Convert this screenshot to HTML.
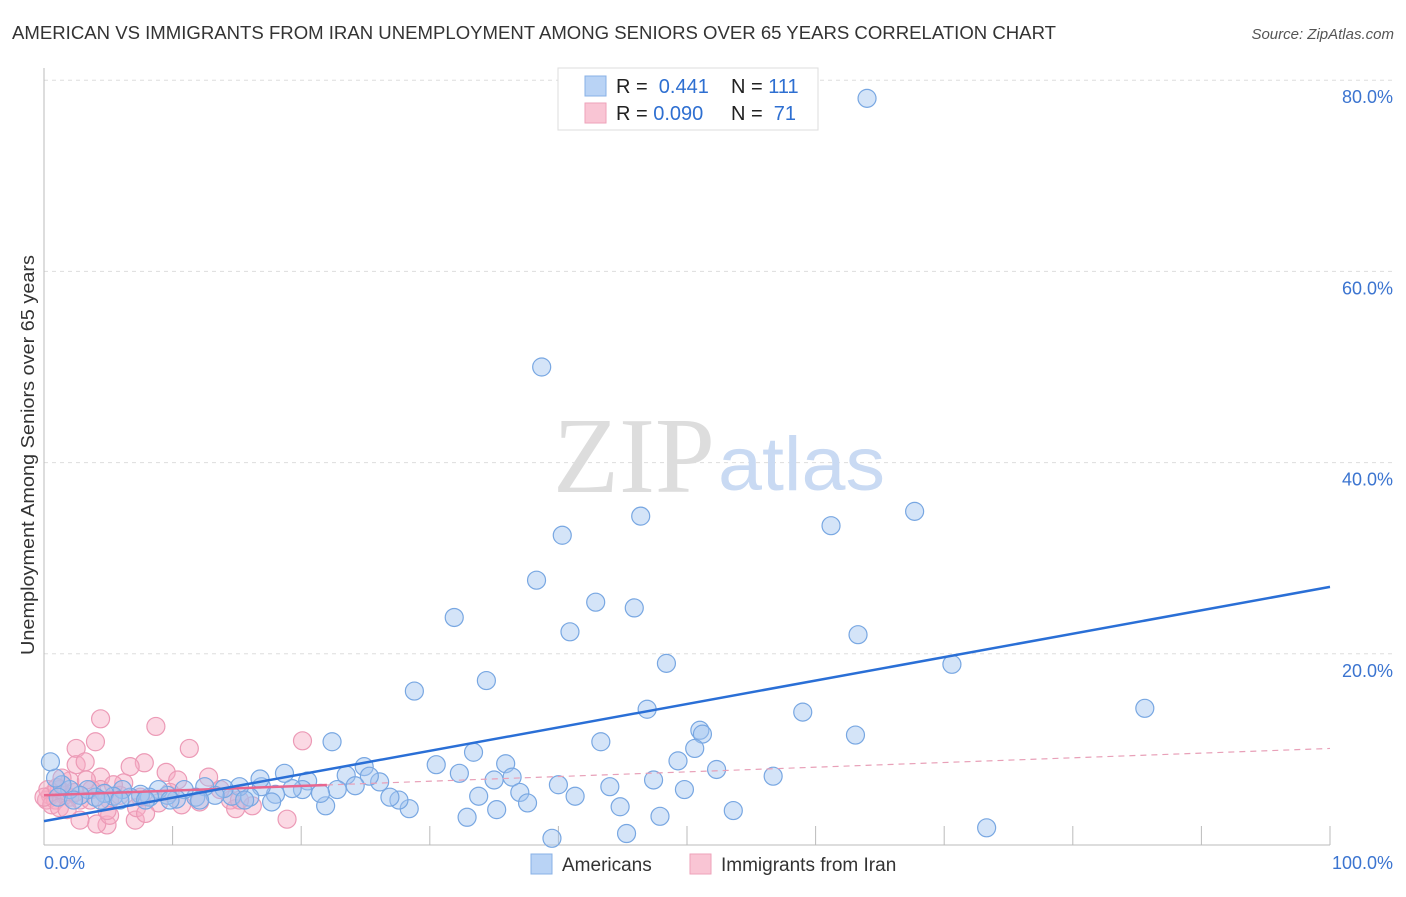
<!DOCTYPE html>
<html><head><meta charset="utf-8"><style>
body{margin:0;background:#fff;font-family:"Liberation Sans",sans-serif;}
svg text{font-family:"Liberation Sans",sans-serif;}
</style></head><body>
<svg id="chart" width="1406" height="892">
<text x="12" y="39" font-size="18" fill="#333" textLength="1044" lengthAdjust="spacingAndGlyphs">AMERICAN VS IMMIGRANTS FROM IRAN UNEMPLOYMENT AMONG SENIORS OVER 65 YEARS CORRELATION CHART</text>
<text x="1394" y="39" font-size="15" fill="#555" font-style="italic" text-anchor="end">Source: ZipAtlas.com</text>
<text transform="translate(34,655) rotate(-90)" font-size="18" fill="#333" textLength="400" lengthAdjust="spacingAndGlyphs">Unemployment Among Seniors over 65 years</text>
<g id="grid"></g>
<text x="553" y="492" font-size="108" fill="#ddd" textLength="162" lengthAdjust="spacingAndGlyphs" style="font-family:'Liberation Serif',serif">ZIP</text>
<text x="718" y="490" font-size="76" fill="#c9daf3" textLength="167" lengthAdjust="spacingAndGlyphs">atlas</text>
<g id="marks"></g>
<g>
<rect x="558" y="68" width="260" height="62" fill="#fff" stroke="#ddd"/>
<rect x="585" y="76" width="21" height="20" fill="#b9d3f5" stroke="#88b0e6"/>
<rect x="585" y="103" width="21" height="20" fill="#f9c5d4" stroke="#eea2ba"/>
<text x="616" y="93" font-size="20" fill="#222">R = <tspan fill="#2e6fd1">&#160;0.441</tspan></text>
<text x="731" y="93" font-size="20" fill="#222">N = <tspan fill="#2e6fd1">111</tspan></text>
<text x="616" y="120" font-size="20" fill="#222">R = <tspan fill="#2e6fd1">0.090</tspan></text>
<text x="731" y="120" font-size="20" fill="#222">N = <tspan fill="#2e6fd1">&#160;71</tspan></text>
</g>
<g>
<rect x="531" y="854" width="21" height="20" fill="#b9d3f5" stroke="#88b0e6"/>
<text x="562" y="871" font-size="19" fill="#333">Americans</text>
<rect x="690" y="854" width="21" height="20" fill="#f9c5d4" stroke="#eea2ba"/>
<text x="721" y="871" font-size="19" fill="#333">Immigrants from Iran</text>
</g>
<text x="44" y="869" font-size="18" fill="#3b74d0">0.0%</text>
<text x="1393" y="869" font-size="18" fill="#3b74d0" text-anchor="end">100.0%</text>
</svg>
<script>
const yTicks=[20,40,60,80];
const yTickLabels=["20.0%","40.0%","60.0%","80.0%"];
const xTicks=[10,20,30,40,50,60,70,80,90,100];
const blueX=[64.0,38.7,46.4,40.3,61.2,67.7,38.3,42.9,45.9,31.9,40.9,63.3,48.4,70.6,28.8,34.4,46.9,59.0,85.6,51.0,51.2,63.1,43.3,50.6,33.4,22.4,49.3,35.9,30.5,52.3,56.7,32.3,36.4,35.0,47.4,40.0,44.0,49.8,37.0,41.3,33.8,37.6,44.8,53.6,35.2,32.9,47.9,39.5,45.3,73.3,28.4,27.6,26.9,26.1,24.9,25.3,23.5,24.2,22.8,21.9,21.5,20.5,20.1,19.3,18.7,18.0,16.9,16.8,16.0,15.2,14.6,14.0,13.3,12.5,11.8,10.9,10.3,9.6,8.9,8.2,7.5,6.7,6.1,5.4,4.7,4.0,3.4,2.8,2.0,1.4,0.9,0.5,1.1,2.3,4.4,5.9,7.9,9.8,12.1,15.6,17.7];
const blueY=[78.1,50.0,34.4,32.4,33.4,34.9,27.7,25.4,24.8,23.8,22.3,22.0,19.0,18.9,16.1,17.2,14.2,13.9,14.3,12.0,11.6,11.5,10.8,10.1,9.7,10.8,8.8,8.5,8.4,7.9,7.2,7.5,7.1,6.8,6.8,6.3,6.1,5.8,5.5,5.1,5.1,4.4,4.0,3.6,3.7,2.9,3.0,0.7,1.2,1.8,3.8,4.7,5.0,6.6,8.2,7.2,7.3,6.2,5.8,4.1,5.4,6.7,5.8,5.9,7.5,5.3,6.1,6.9,5.0,6.1,5.1,5.9,5.2,6.1,5.0,5.8,4.8,5.2,5.8,5.0,5.3,5.0,5.8,5.1,5.4,5.0,5.8,5.2,5.8,6.3,7.0,8.7,5.0,4.7,4.7,4.7,4.7,4.7,4.7,4.7,4.5];
const pinkX=[4.4,8.7,11.3,4.0,20.1,7.8,2.5,2.5,3.2,6.7,9.5,4.4,2.0,6.2,10.4,12.8,3.7,1.2,0.5,0.2,0.9,1.6,2.8,5.1,7.5,8.9,10.7,12.1,14.5,16.2,14.9,18.9,7.1,4.9,4.1,2.8,5.1,4.9,3.6,2.0,0.3,0.6,1.2,4.4,5.9,5.4,7.2,7.9,13.7,15.2,9.8,3.3,1.4,0,1.8,2.4,1.0];
const pinkY=[13.2,12.4,10.1,10.8,10.9,8.6,10.1,8.4,8.7,8.2,7.6,7.1,6.7,6.5,6.8,7.1,5.8,5.8,5.2,4.7,4.7,5.2,4.7,4.7,5.0,4.4,4.2,4.5,4.7,4.1,3.8,2.7,2.6,2.1,2.2,2.6,3.1,3.6,4.7,5.0,5.8,4.2,3.9,5.8,5.2,6.3,3.9,3.3,5.8,4.7,5.5,6.8,7.0,5.0,3.7,5.5,6.0];
const blueTrend=[2.5,27.0];
const pinkTrend=[5.2,10.1];
const NS="http://www.w3.org/2000/svg";
const X=v=>44+v*12.86, Y=v=>845-v*9.56;
function mk(t,a,p){const e=document.createElementNS(NS,t);for(const k in a)e.setAttribute(k,a[k]);p.appendChild(e);return e;}
const grid=document.getElementById('grid'), marks=document.getElementById('marks');
yTicks.forEach((t,i)=>{
  const l=mk('line',{x1:44,x2:1393,y1:Y(t),y2:Y(t),stroke:'#ddd','stroke-dasharray':'4,4'},grid);
  
  
  const tx=mk('text',{x:1393,y:Y(t)+23,'font-size':18,fill:'#3b74d0','text-anchor':'end'},grid);
  tx.textContent=yTickLabels[i];
  
  
});
const ax=mk('line',{x1:44,x2:44,y1:68,y2:845,stroke:'#bbb'},grid);


const bx=mk('line',{x1:44,x2:1330,y1:845,y2:845,stroke:'#bbb'},grid);


xTicks.forEach(t=>{
  const l=mk('line',{x1:X(t),x2:X(t),y1:826,y2:845,stroke:'#bbb'},grid);
  
  
});
pinkX.forEach((v,i)=>{
  const c=mk('circle',{cx:X(v),cy:Y(pinkY[i]),r:9,fill:'rgba(247,170,195,0.45)',stroke:'#ec9ab6','stroke-width':1.2},marks);
  
  
});
blueX.forEach((v,i)=>{
  const c=mk('circle',{cx:X(v),cy:Y(blueY[i]),r:9,fill:'rgba(160,196,240,0.45)',stroke:'#78a7e2','stroke-width':1.2},marks);
  
  
});
const py=x=>pinkTrend[0]+(pinkTrend[1]-pinkTrend[0])*x/100;
const p1=mk('line',{x1:X(0),y1:Y(py(0)),x2:X(22),y2:Y(py(22)),stroke:'#e8668f','stroke-width':2.5},marks);


const p2=mk('line',{x1:X(22),y1:Y(py(22)),x2:X(100),y2:Y(py(100)),stroke:'#e8a0b8','stroke-width':1.2,'stroke-dasharray':'6,5'},marks);


const b=mk('line',{x1:X(0),y1:Y(blueTrend[0]),x2:X(100),y2:Y(blueTrend[1]),stroke:'#2a6fd6','stroke-width':2.5},marks);


</script>
</body></html>
